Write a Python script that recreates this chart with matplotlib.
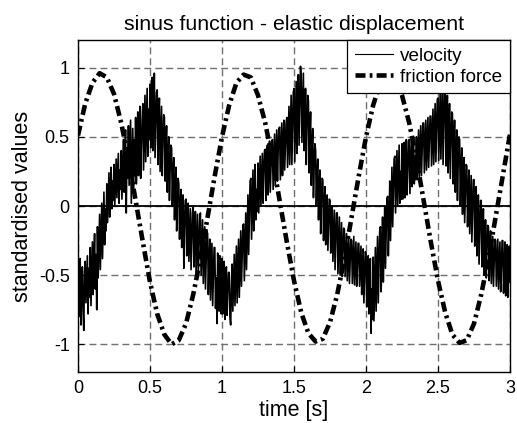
import numpy as np
import matplotlib
matplotlib.use("Agg")
import matplotlib.pyplot as plt

plt.rcParams["font.family"] = ["Liberation Sans", "DejaVu Sans"]
plt.rcParams["lines.scale_dashes"] = False

# --- data ----------------------------------------------------------------
T_END = 3.0
# friction force, sampled every 0.05 s
friction = [
    0.51, 0.74, 0.89, 0.96, 0.93, 0.81, 0.60, 0.34, 0.04, -0.26,
    -0.55, -0.78, -0.93, -1.00, -0.97, -0.85, -0.64, -0.38, -0.08, 0.22,
    0.50, 0.73, 0.89, 0.95, 0.93, 0.80, 0.60, 0.34, 0.04, -0.26,
    -0.54, -0.77, -0.92, -0.98, -0.96, -0.84, -0.64, -0.38, -0.08, 0.22,
    0.50, 0.73, 0.89, 0.95, 0.93, 0.80, 0.60, 0.34, 0.04, -0.26,
    -0.54, -0.77, -0.93, -0.99, -0.97, -0.85, -0.64, -0.38, -0.08, 0.22,
    0.52,
]
# velocity, sampled every 0.005 s (one line = 0.05 s)
velocity = [
    -0.42, -0.80, -0.55, -0.38, -0.86, -0.62, -0.44, -0.76, -0.90, -0.48,
    -0.40, -0.70, -0.52, -0.36, -0.78, -0.45, -0.66, -0.30, -0.72, -0.50,
    -0.26, -0.64, -0.40, -0.20, -0.60, -0.35, -0.75, -0.15, -0.52, -0.28,
    -0.06, -0.46, -0.20, 0.02, -0.38, -0.12, 0.10, -0.28, -0.02, -0.18,
    0.16, -0.12, 0.05, 0.24, -0.08, 0.12, 0.28, -0.02, 0.18, 0.04,
    0.30, 0.00, 0.18, 0.34, 0.06, 0.22, 0.38, 0.02, 0.26, 0.12,
    0.40, 0.05, 0.28, 0.48, 0.10, 0.35, 0.55, -0.05, 0.42, 0.20,
    0.58, 0.15, 0.40, 0.62, 0.02, 0.30, 0.56, 0.12, 0.48, 0.22,
    0.64, 0.16, 0.40, 0.68, 0.22, 0.52, 0.72, 0.20, 0.45, 0.62,
    0.74, 0.26, 0.55, 0.80, 0.32, 0.60, 0.85, 0.36, 0.70, 0.48,
    0.88, 0.42, 0.65, 0.93, 0.40, 0.72, 0.96, 0.35, 0.60, 0.82,
    0.84, 0.30, 0.58, 0.78, 0.25, 0.50, 0.72, 0.22, 0.46, 0.66,
    0.64, 0.18, 0.42, 0.58, 0.10, 0.35, 0.50, 0.04, 0.28, 0.44,
    0.42, 0.00, 0.22, 0.35, -0.10, 0.15, 0.28, -0.18, 0.05, 0.20,
    0.16, -0.24, -0.02, 0.12, -0.30, -0.08, 0.08, -0.45, -0.15, 0.04,
    0.05, -0.36, -0.12, 0.02, -0.40, -0.20, -0.02, -0.46, -0.25, -0.05,
    0.00, -0.44, -0.22, -0.04, -0.48, -0.28, -0.06, -0.50, -0.30, -0.10,
    -0.05, -0.50, -0.30, -0.10, -0.56, -0.36, -0.15, -0.60, -0.40, -0.18,
    -0.20, -0.64, -0.42, -0.24, -0.68, -0.46, -0.27, -0.72, -0.50, -0.30,
    -0.30, -0.74, -0.52, -0.85, -0.34, -0.60, -0.76, -0.36, -0.55, -0.78,
    -0.38, -0.78, -0.56, -0.40, -0.82, -0.60, -0.44, -0.79, -0.62, -0.48,
    -0.48, -0.80, -0.86, -0.60, -0.42, -0.76, -0.55, -0.35, -0.72, -0.50,
    -0.29, -0.70, -0.48, -0.24, -0.66, -0.40, -0.18, -0.58, -0.35, -0.14,
    -0.13, -0.54, -0.30, -0.05, -0.46, -0.18, 0.08, -0.35, -0.08, 0.18,
    0.20, -0.24, 0.02, 0.26, -0.18, 0.10, 0.30, -0.10, 0.12, -0.04,
    0.31, -0.05, 0.15, 0.36, 0.00, 0.20, 0.38, 0.02, 0.24, 0.40,
    0.41, 0.04, 0.22, 0.44, 0.08, 0.30, 0.47, 0.10, 0.28, 0.46,
    0.48, 0.12, 0.32, 0.52, 0.15, 0.36, 0.55, 0.18, 0.40, 0.56,
    0.57, 0.19, 0.40, 0.60, 0.22, 0.45, 0.62, 0.26, 0.44, 0.60,
    0.64, 0.28, 0.50, 0.72, 0.30, 0.55, 0.80, 0.30, 0.58, 0.82,
    0.85, 0.32, 0.62, 0.90, 0.38, 0.70, 0.95, 0.44, 0.72, 1.01,
    0.92, 0.46, 0.70, 0.96, 0.40, 0.65, 0.85, 0.30, 0.58, 0.80,
    0.76, 0.24, 0.50, 0.68, 0.15, 0.40, 0.56, 0.06, 0.30, 0.45,
    0.40, 0.00, 0.22, 0.34, -0.10, 0.12, 0.26, -0.20, 0.04, 0.20,
    0.19, -0.25, -0.02, 0.14, -0.28, -0.08, 0.08, -0.32, -0.12, 0.05,
    0.04, -0.34, -0.15, 0.00, -0.40, -0.20, -0.03, -0.46, -0.25, -0.05,
    -0.05, -0.49, -0.28, -0.08, -0.50, -0.30, -0.12, -0.51, -0.32, -0.16,
    -0.17, -0.51, -0.36, -0.20, -0.54, -0.38, -0.22, -0.56, -0.40, -0.24,
    -0.25, -0.56, -0.40, -0.22, -0.57, -0.42, -0.26, -0.58, -0.44, -0.27,
    -0.27, -0.58, -0.44, -0.29, -0.64, -0.46, -0.31, -0.70, -0.50, -0.33,
    -0.34, -0.73, -0.52, -0.36, -0.78, -0.55, -0.38, -0.92, -0.60, -0.82,
    -0.37, -0.83, -0.58, -0.30, -0.76, -0.50, -0.22, -0.70, -0.45, -0.18,
    -0.15, -0.62, -0.38, -0.08, -0.55, -0.30, 0.00, -0.45, -0.20, 0.05,
    0.07, -0.36, -0.12, 0.18, -0.25, 0.02, 0.28, -0.15, 0.10, 0.34,
    0.36, -0.05, 0.18, 0.40, 0.00, 0.22, 0.44, 0.02, 0.25, 0.05,
    0.45, 0.05, 0.28, 0.46, 0.06, 0.30, 0.48, 0.08, 0.26, 0.47,
    0.48, 0.09, 0.30, 0.49, 0.14, 0.34, 0.50, 0.16, 0.36, 0.19,
    0.50, 0.19, 0.38, 0.55, 0.20, 0.40, 0.58, 0.22, 0.42, 0.60,
    0.60, 0.24, 0.44, 0.62, 0.26, 0.46, 0.64, 0.28, 0.48, 0.65,
    0.65, 0.29, 0.50, 0.70, 0.30, 0.52, 0.74, 0.32, 0.55, 0.77,
    0.78, 0.33, 0.58, 0.82, 0.34, 0.62, 0.90, 0.30, 0.60, 0.86,
    0.85, 0.29, 0.58, 0.80, 0.24, 0.52, 0.74, 0.20, 0.45, 0.68,
    0.67, 0.16, 0.42, 0.62, 0.10, 0.36, 0.55, 0.04, 0.30, 0.50,
    0.48, 0.00, 0.25, 0.42, -0.06, 0.18, 0.35, -0.12, 0.10, 0.30,
    0.29, -0.15, 0.08, 0.26, -0.20, 0.02, 0.22, -0.26, -0.02, 0.19,
    0.19, -0.29, -0.05, 0.14, -0.36, -0.10, 0.08, -0.42, -0.18, 0.04,
    0.04, -0.44, -0.20, -0.02, -0.50, -0.26, -0.10, -0.52, -0.30, -0.14,
    -0.15, -0.54, -0.34, -0.18, -0.56, -0.38, -0.22, -0.58, -0.40, -0.24,
    -0.25, -0.58, -0.42, -0.24, -0.60, -0.44, -0.26, -0.62, -0.45, -0.25,
    -0.25, -0.63, -0.46, -0.26, -0.65, -0.48, -0.28, -0.66, -0.50, -0.29,
    -0.55,
]
x_ticks = [0, 0.5, 1, 1.5, 2, 2.5, 3]
y_ticks = [-1, -0.5, 0, 0.5, 1]

t_fric = np.linspace(0, T_END, len(friction))
t_vel = np.linspace(0, T_END, len(velocity))

# --- plot ----------------------------------------------------------------
fig = plt.figure(figsize=(5.17, 4.23), dpi=100)
ax = fig.add_axes([0.1509, 0.1206, 0.8356, 0.7848])

ax.plot(t_vel, velocity, color="black", lw=1.2, label="velocity", zorder=3)
ax.plot(t_fric, friction, color="black", lw=3.3,
        ls=(0, (7.2, 3.0, 2.0, 3.0)), label="friction force", zorder=4)
ax.axhline(0, color="black", lw=1.3, zorder=2)

ax.set_xlim(0, 3)
ax.set_ylim(-1.2, 1.2)
ax.set_xticks(x_ticks)
ax.set_xticklabels(["0", "0.5", "1", "1.5", "2", "2.5", "3"])
ax.set_yticks(y_ticks)
ax.set_yticklabels(["-1", "-0.5", "0", "0.5", "1"])
ax.tick_params(direction="in", length=4, labelsize=13, pad=6)
ax.grid(True, color="#707070", lw=1.0, ls=(0, (5.0, 2.9)))
for s in ax.spines.values():
    s.set_linewidth(1.0)

ax.set_title("sinus function - elastic displacement", fontsize=15.3, pad=7)
ax.set_xlabel("time [s]", fontsize=15.5, labelpad=2)
ax.set_ylabel("standardised values", fontsize=15.5, labelpad=4)

leg = ax.legend(loc="upper right", borderaxespad=0, fontsize=13.6,
                handlelength=2.0, handletextpad=0.4, borderpad=0.4,
                labelspacing=0.2, fancybox=False, framealpha=1,
                edgecolor="black")
leg.get_frame().set_linewidth(0.9)
leg.get_lines()[0].set_linewidth(0.8)
leg.set_zorder(10)

fig.savefig("out.png", dpi=100)
